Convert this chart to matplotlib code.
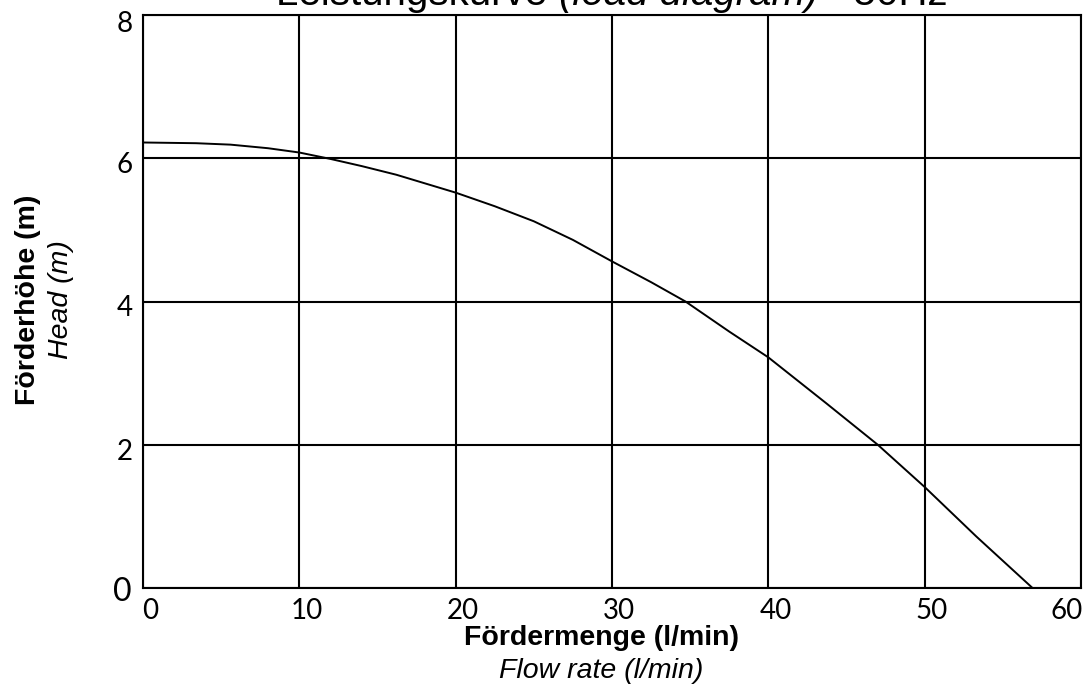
import matplotlib
matplotlib.use("Agg")
import matplotlib.pyplot as plt

# Data
flow = [0, 3.4, 5.6, 8, 10, 12, 14, 16.2, 20, 22.5, 25, 27.5, 30, 32.5, 34.7, 37.5, 40, 43.7, 47, 50, 53.3, 56.9]
head = [6.22, 6.21, 6.19, 6.14, 6.08, 5.99, 5.89, 5.77, 5.52, 5.33, 5.12, 4.86, 4.56, 4.27, 4.0, 3.58, 3.22, 2.58, 2.0, 1.41, 0.72, 0.0]
xticks = [0, 10, 20, 30, 40, 50, 60]
yticks = [0, 2, 4, 6, 8]

title_main = "Leistungskurve "
title_it = "(load diagram)"
title_end = " - 50Hz"

W, H = 1083, 697
fig = plt.figure(figsize=(W / 100, H / 100), dpi=100)
ax = fig.add_axes([143 / W, 1 - 588 / H, (1081 - 143) / W, (588 - 15) / H])

ax.plot(flow, head, color="black", lw=1.4, zorder=3, solid_joinstyle="round")
ax.set_xlim(0, 60)
ax.set_ylim(0, 8)
ax.set_xticks(xticks)
ax.set_yticks(yticks)
ax.grid(True, color="black", lw=1.5)
ax.set_axisbelow(True)
for s in ax.spines.values():
    s.set_linewidth(1.5)
    s.set_color("black")
ax.tick_params(length=0, labelbottom=False, labelleft=False)

tickfont = dict(family="Lato", weight="normal", size=20, color="black")
for i, v in enumerate(xticks):
    dx = 7 if i < len(xticks) - 1 else -14
    ax.annotate(str(v), xy=(v, 0), xycoords="data", xytext=(dx, -10),
                textcoords="offset pixels", ha="center", va="top",
                annotation_clip=False, **tickfont)
for i, v in enumerate(yticks):
    dy = -9 if v == 8 else -7
    fs = 23 if v == 0 else 20
    d = dict(tickfont)
    d["size"] = fs
    ax.annotate(str(v), xy=(0, v), xycoords="data", xytext=(-18 if v else -21, dy if v else -4),
                textcoords="offset pixels", ha="center", va="center",
                annotation_clip=False, **d)

lbl = dict(family="Liberation Sans", size=20.5)
fig.text(601 / W, 1 - 638 / H, "Fördermenge (l/min)", ha="center", va="center", weight="bold", **lbl)
fig.text(601 / W, 1 - 671 / H, "Flow rate (l/min)", ha="center", va="center", style="italic", **lbl)
fig.text(28 / W, 1 - 300 / H, "Förderhöhe (m)", ha="center", va="center", rotation=90, weight="bold", **lbl)
fig.text(61 / W, 1 - 300 / H, "Head (m)", ha="center", va="center", rotation=90, style="italic", **lbl)

# Title (partially cut at the top edge, as in the reference)
tf = dict(family="Liberation Sans", size=29)
fy = 1 - 5 / H
t1 = fig.text(0.0, fy, title_main, ha="left", va="baseline", **tf)
t2 = fig.text(0.0, fy, title_it, ha="left", va="baseline", style="italic", **tf)
t3 = fig.text(0.0, fy, title_end, ha="left", va="baseline", **tf)
fig.canvas.draw()
r = fig.canvas.get_renderer()
w1 = t1.get_window_extent(r).width
w2 = t2.get_window_extent(r).width
w3 = t3.get_window_extent(r).width
total = w1 + w2 + w3
x0 = 612 - total / 2
t1.set_position((x0 / W, fy))
t2.set_position(((x0 + w1) / W, fy))
t3.set_position(((x0 + w1 + w2) / W, fy))

fig.savefig("out.png", dpi=100)
